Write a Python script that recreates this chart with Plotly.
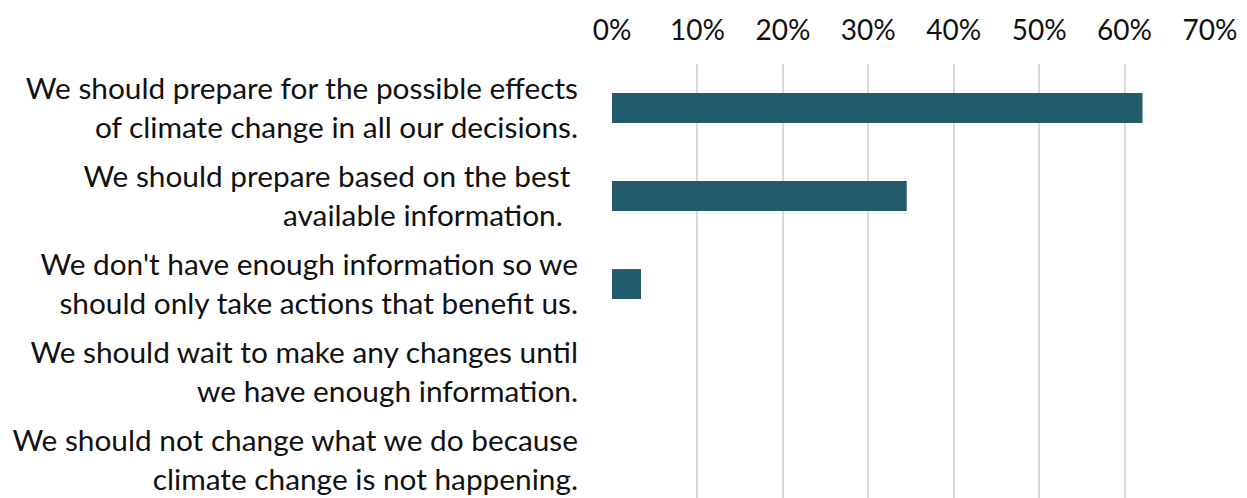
import plotly.graph_objects as go

categories = [
    "We should prepare for the possible effects<br>of climate change in all our decisions.",
    "We should prepare based on the best\u00a0<br>available information.\u00a0\u00a0",
    "We don't have enough information so we<br>should only take actions that benefit us.",
    "We should wait to make any changes until<br>we have enough information.",
    "We should not change what we do because<br>climate change is not happening.",
]
values = [0.621, 0.345, 0.034, 0.0, 0.0]
tick_vals = [0, 0.1, 0.2, 0.3, 0.4, 0.5, 0.6, 0.7]
tick_text = ["0%", "10%", "20%", "30%", "40%", "50%", "60%", "70%"]

fig = go.Figure(go.Bar(
    x=values, y=categories, orientation="h",
    marker=dict(color="#235B6A", line=dict(width=0)),
    width=0.34,
))

fig.update_layout(
    width=1239, height=490,
    margin=dict(l=604, r=37, t=56, b=0),
    paper_bgcolor="white", plot_bgcolor="white",
    font=dict(family="Lato", size=29, color="#111111"),
    showlegend=False,
)
fig.update_xaxes(
    side="top", range=[0, 0.7], tickvals=tick_vals, ticktext=tick_text,
    showgrid=True, gridcolor="#d9d9d9", gridwidth=1.5,
    zeroline=False, showline=False, ticks="", ticklabelstandoff=17,
    automargin=False,
    tickfont=dict(family="Lato", size=28, color="#111111"),
)
fig.update_yaxes(
    range=[4.43, -0.5], showgrid=False, zeroline=False, showline=False,
    ticks="", ticklabelstandoff=33, automargin=False,
    tickfont=dict(family="Lato", size=29.8, color="#111111"),
)

fig.write_html("out.html")
